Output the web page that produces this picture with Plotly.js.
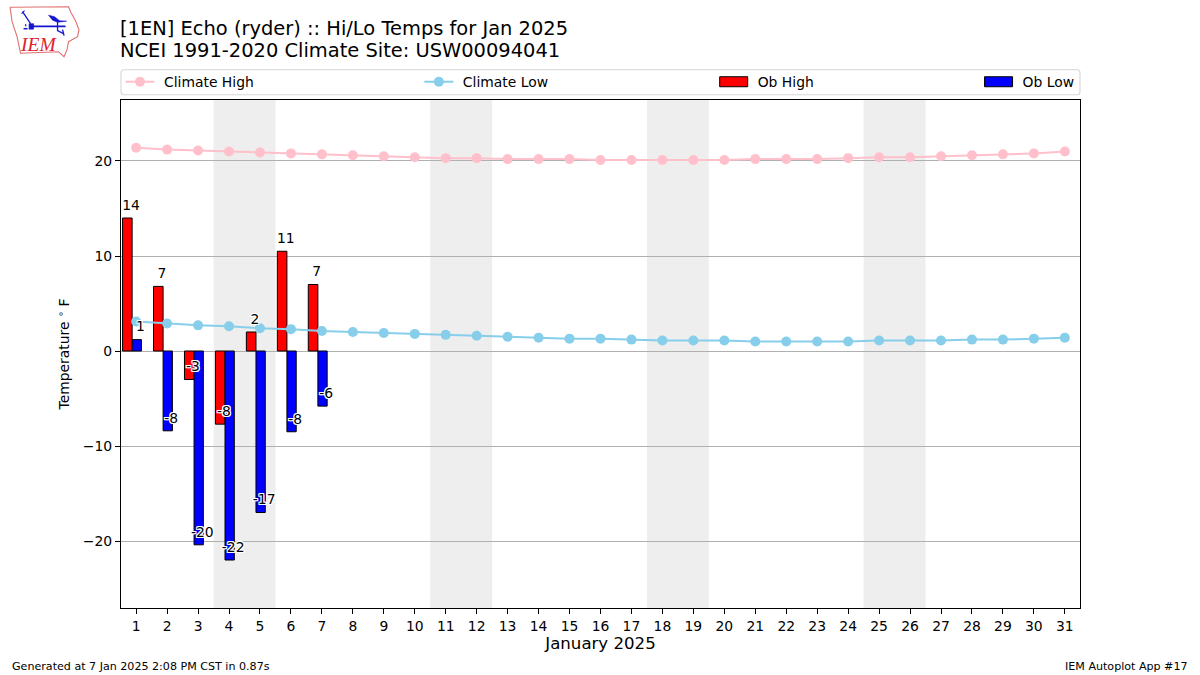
<!DOCTYPE html>
<html><head><meta charset="utf-8">
<script src="https://cdn.plot.ly/plotly-3.0.1.min.js"></script>
<style>html,body{margin:0;padding:0;background:#fff}#c{width:1200px;height:675px}</style>
</head><body><div id="c"></div>
<script>
const days = Array.from({length:31},(_,i)=>i+1);
const climateHigh = [21.4,21.2,21.1,21.0,20.9,20.8,20.7,20.6,20.5,20.4,20.3,20.3,20.2,20.2,20.2,20.1,20.1,20.1,20.1,20.1,20.2,20.2,20.2,20.3,20.4,20.4,20.5,20.6,20.7,20.8,21.0];
const climateLow = [3.1,2.9,2.7,2.6,2.4,2.3,2.1,2.0,1.9,1.8,1.7,1.6,1.5,1.4,1.3,1.3,1.2,1.1,1.1,1.1,1.0,1.0,1.0,1.0,1.1,1.1,1.1,1.2,1.2,1.3,1.4];
const obDays = [1,2,3,4,5,6,7];
const obHigh = [14,6.8,-3,-7.7,2,10.5,7];
const obLow = [1.2,-8.4,-20.4,-22,-17,-8.5,-5.8];
const obHighLabels = ['14','7','-3','-8','2','11','7'];
const obLowLabels = ['1','-8','-20','-22','-17','-8','-6'];
const weekends = [[3.5,5.5],[10.5,12.5],[17.5,19.5],[24.5,26.5]];

const W=1200,H=675,L=120.5,R=1080,T=100.3,B=608.3;
const px=x=>(x-L)/(R-L), py=y=>(B-y)/(B-T);
const pth=pts=>pts.map((p,i)=>(i?'L':'M')+px(p[0])+','+py(p[1])).join(' ');
const halo='-1px -1px 0 #fff,1px -1px 0 #fff,-1px 1px 0 #fff,1px 1px 0 #fff,0 1px 0 #fff,0 -1px 0 #fff,1px 0 0 #fff,-1px 0 0 #fff';
const font='"DejaVu Sans", sans-serif';

function logoPath(pts,color,w,fill){return {type:'path',xref:'paper',yref:'paper',path:pth(pts)+(fill?' Z':''),line:{color:color,width:w},fillcolor:fill?color:'rgba(0,0,0,0)',layer:'above'};}

const shapes = weekends.map(w=>({type:'rect',xref:'x',yref:'paper',x0:w[0],x1:w[1],y0:0,y1:1,fillcolor:'#eeeeee',line:{width:0},layer:'below'}));
// rounded legend frame
const lx0=120.5,lx1=1080,ly0=70,ly1=95,r=3;
shapes.push({type:'path',xref:'paper',yref:'paper',layer:'below',fillcolor:'#fff',line:{color:'#d6d6d6',width:1.1},
 path:`M${px(lx0+r)},${py(ly0)} L${px(lx1-r)},${py(ly0)} Q${px(lx1)},${py(ly0)} ${px(lx1)},${py(ly0+r)} L${px(lx1)},${py(ly1-r)} Q${px(lx1)},${py(ly1)} ${px(lx1-r)},${py(ly1)} L${px(lx0+r)},${py(ly1)} Q${px(lx0)},${py(ly1)} ${px(lx0)},${py(ly1-r)} L${px(lx0)},${py(ly0+r)} Q${px(lx0)},${py(ly0)} ${px(lx0+r)},${py(ly0)} Z`});
// logo
shapes.push(logoPath([[9.5,7.5],[68,7],[70.5,13],[75,21],[78.5,30],[77,37],[68,42],[66.5,50],[63.5,57],[58,52],[20,53.5],[16.5,37],[11.5,22],[9.5,7.5]],'#e07070',1.1,false));
shapes.push(logoPath([[31,26.7],[65,26.7]],'#1515d0',1.8,false));
shapes.push(logoPath([[22,12],[30,24]],'#1515d0',1.3,false));
shapes.push(logoPath([[21,14],[24,11]],'#1515d0',1.1,false));
shapes.push(logoPath([[48,15.5],[54,17],[59,21],[66,21.5],[57,22.5],[52,20.5]],'#1515d0',0.6,true));
shapes.push(logoPath([[57,22],[57,31],[63,34]],'#1515d0',1.3,false));
shapes.push(logoPath([[62,30],[63.5,36]],'#1515d0',1.3,false));
shapes.push(logoPath([[28.5,24],[33,24],[33,29.5],[28.5,29.5]],'#1515d0',0.6,true));
shapes.push(logoPath([[23,29],[27,29]],'#1515d0',1.5,false));
shapes.push(logoPath([[25,24.5],[25.2,26.5]],'#1515d0',1.3,false));

const traces=[
 {type:'scatter',mode:'lines+markers',name:'Climate High',legend:'legend',x:days,y:climateHigh,line:{color:'#ffc0cb',width:2},marker:{color:'#ffc0cb',size:10}},
 {type:'scatter',mode:'lines+markers',name:'Climate Low',legend:'legend2',x:days,y:climateLow,line:{color:'#87ceeb',width:2},marker:{color:'#87ceeb',size:10}},
 {type:'bar',name:'Ob High',legend:'legend3',x:obDays,y:obHigh,width:0.31,offset:-0.44,marker:{color:'#ff0000',line:{color:'#000',width:1}}},
 {type:'bar',name:'Ob Low',legend:'legend4',x:obDays,y:obLow,width:0.3,offset:-0.13,marker:{color:'#0000ff',line:{color:'#000',width:1}}},
 {type:'scatter',mode:'text',showlegend:false,hoverinfo:'skip',x:obDays.map(d=>d-0.165),y:obHigh.map(v=>v+0.5),text:obHighLabels,textposition:'top center',textfont:{family:font,size:13.9,color:'#000',shadow:halo},cliponaxis:false},
 {type:'scatter',mode:'text',showlegend:false,hoverinfo:'skip',x:obDays.map(d=>d+0.135),y:obLow.map(v=>v+0.5),text:obLowLabels,textposition:'top center',textfont:{family:font,size:13.9,color:'#000',shadow:halo},cliponaxis:false}
];
const note=(t,x,y,size,anchor,extra)=>Object.assign({text:t,xref:'paper',yref:'paper',x:px(x),y:py(y),xanchor:anchor,yanchor:'middle',showarrow:false,font:{family:font,size:size,color:'#000'}},extra||{});
const annotations=[
 note('[1EN] Echo (ryder) :: Hi/Lo Temps for Jan 2025',117.5,29,19.45,'left'),
 note('NCEI 1991-2020 Climate Site: USW00094041',117.5,50.5,19.45,'left'),
 note('Generated at 7 Jan 2025 2:08 PM CST in 0.87s',9.5,666.5,11.1,'left'),
 note('IEM Autoplot App #17',1190.5,666.5,11.1,'right'),
 note('<i>IEM</i>',37.5,45,19.5,'center',{font:{family:'"Liberation Serif", serif',size:19.5,color:'#e0222a'}})
];
const leg=(xp)=>({orientation:'h',x:px(xp),xanchor:'left',y:py(82.5),yanchor:'middle',itemwidth:30,bgcolor:'rgba(0,0,0,0)',borderwidth:0,font:{size:13.9},itemclick:false,itemdoubleclick:false});
const layout={
 width:W,height:H,paper_bgcolor:'#fff',plot_bgcolor:'#fff',
 margin:{l:L,r:W-R,t:T,b:H-B,pad:0},
 font:{family:font,size:13.9,color:'#000'},
 barmode:'overlay',
 hovermode:false,
 xaxis:{range:[0.51,31.49],tickmode:'array',tickvals:days,ticktext:days.map(String),ticks:'outside',ticklen:5,tickwidth:1.1,tickcolor:'#000',showline:true,linecolor:'#000',linewidth:1.1,mirror:true,showgrid:false,zeroline:false,tickfont:{size:13.9},tickangle:0,title:{text:'January 2025',font:{size:16.6},standoff:4}},
 yaxis:{range:[-27.05,26.42],tickvals:[-20,-10,0,10,20],ticks:'outside',ticklen:5,tickwidth:1.1,tickcolor:'#000',showline:true,linecolor:'#000',linewidth:1.1,mirror:true,showgrid:true,gridcolor:'#b0b0b0',gridwidth:1.1,zeroline:true,zerolinecolor:'#b0b0b0',zerolinewidth:1.1,tickfont:{size:13.9},title:{text:'Temperature\u00A0<sup>∘</sup>\u00A0F',font:{size:13.9},standoff:9}},
 legend:leg(123.5),legend2:leg(422.5),legend3:leg(717.5),legend4:leg(982.5),
 shapes:shapes,annotations:annotations,showlegend:true
};
Plotly.newPlot('c',traces,layout,{displayModeBar:false,responsive:false}).then(gd=>{
 // legend keys sized like the reference: wide bar swatches, shorter line offset
 gd.querySelectorAll('.legendpoints path').forEach(p=>{
   if(p.classList.contains('scatterpts')) p.setAttribute('transform','translate(16,0)');
   else p.setAttribute('d','M10,5H-18V-5H10Z');
 });
 gd.querySelectorAll('.legendlines path').forEach(p=>p.setAttribute('d','M1.5,0h29'));
 document.title=[...gd.querySelectorAll('.legendpoints path')].map(p=>p.getAttribute('class')).join(',');
});
</script></body></html>
